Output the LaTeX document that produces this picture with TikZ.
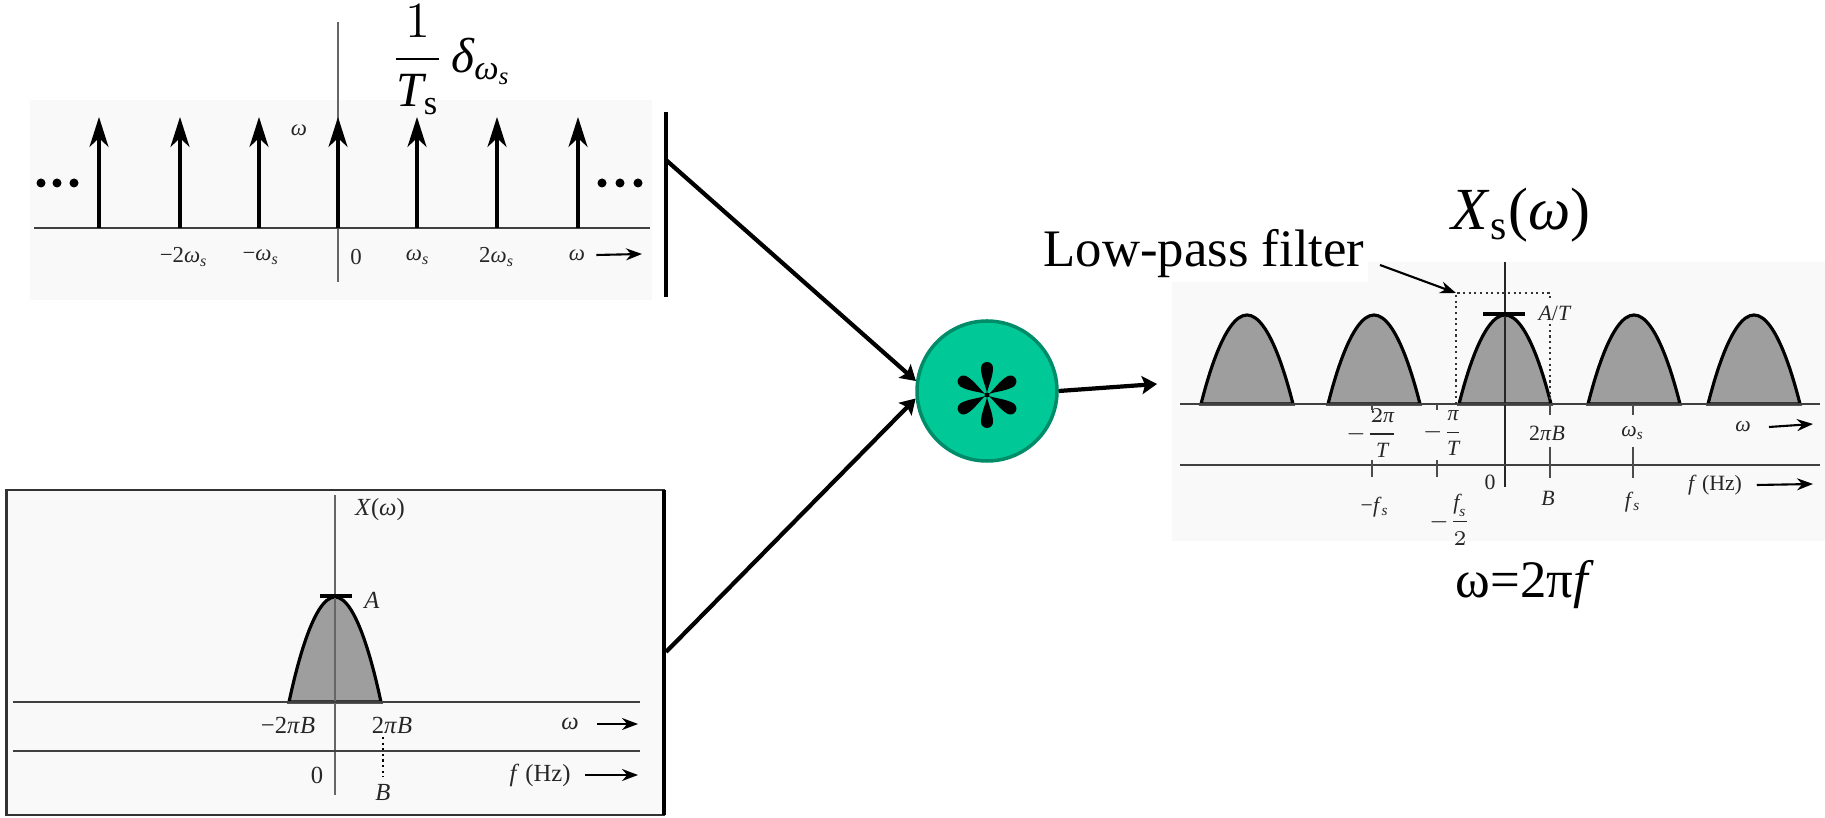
\documentclass[tikz,border=0pt]{standalone}
\usepackage{amsmath}
\usepackage{fontspec}
\setmainfont{Liberation Serif}
\usetikzlibrary{arrows.meta}

\definecolor{convfill}{RGB}{0,200,150}
\definecolor{convedge}{RGB}{0,140,105}
\definecolor{panelbg}{gray}{0.975}

\begin{document}
\begin{tikzpicture}[
    x=1cm, y=1cm,
    every node/.style={inner sep=1pt},
    lbl/.style={font=\fontsize{7}{8}\selectfont, text=black!85},
    tlbl/.style={font=\fontsize{6.5}{7.5}\selectfont, text=black!85},
    rlbl/.style={font=\fontsize{6.2}{7}\selectfont, text=black!85},
    big/.style={font=\fontsize{15}{17}\selectfont},
    axis/.style={draw=black!75, line width=0.8pt},
    vaxis/.style={draw=black!60, line width=0.5pt},
    impulse/.style={-{Stealth[length=3mm,width=1.9mm,inset=0.9mm]}, line width=0.9pt},
    pulse/.style={draw=black, line width=0.9pt, fill=black!38},
    tickmark/.style={draw=black!70, line width=0.5pt},
    arr/.style={-{Stealth[length=1.5mm,width=1.8mm,inset=0.3mm]}, line width=1.2pt},
    smallarr/.style={-{Stealth[length=1.6mm,width=1.2mm]}, line width=0.6pt},
    filterline/.style={densely dotted, line width=0.6pt, draw=black!80}
]

    \useasboundingbox (0,0) rectangle (18.25,8.17);

    % Impulse train
    \fill[panelbg] (0.30,5.17) rectangle (6.52,7.17);
    \draw[vaxis] (3.38,7.95) -- (3.38,5.35);
    \draw[axis] (0.34,5.89) -- (6.50,5.89);
    \foreach \x in {0.99,1.80,2.59,3.38,4.17,4.97,5.78}
        \draw[impulse] (\x,5.89) -- (\x,7.00);
    \foreach \x in {0.41,0.57,0.74,6.02,6.20,6.38}
        \fill (\x,6.34) circle (0.045);
    \draw[line width=1.2pt] (6.66,7.05) -- (6.66,5.20);
    \coordinate (topjoin) at (6.66,6.57);

    \node[tlbl] (tomg) at (2.99,6.87) {\textit{ω}};
    \node[tlbl] (tm2) at (1.84,5.60) {−2\textit{ω}\textsubscript{\textit{s}}};
    \node[tlbl] (tm1) at (2.61,5.60) {−\textit{ω}\textsubscript{\textit{s}}};
    \node[tlbl] (tzero) at (3.56,5.60) {0};
    \node[tlbl] (tp1) at (4.18,5.60) {\textit{ω}\textsubscript{\textit{s}}};
    \node[tlbl] (tp2) at (4.97,5.60) {2\textit{ω}\textsubscript{\textit{s}}};
    \node[tlbl] (taxis) at (5.77,5.62) {\textit{ω}};
    \coordinate (taxisend) at (6.42,5.63);
    \draw[smallarr] ([xshift=2pt]taxis.east) -- (taxisend);

    \node[font=\fontsize{14}{16}\selectfont] (comb) at (4.52,7.57)
        {$\dfrac{1}{\textit{T}_{\mathrm{s}}}\,\textit{δ}_{\textit{ω}_{\textit{s}}}$};

    % Spectrum X(omega)
    \draw[line width=0.7pt, draw=black!80, fill=panelbg] (0.065,0.02) rectangle (6.64,3.27);
    \draw[line width=1.3pt] (6.64,3.27) -- (6.64,0.02);
    \coordinate (botjoin) at (6.66,1.65);

    \draw[pulse] (2.89,1.15) parabola bend (3.35,2.20) (3.81,1.15) -- cycle;
    \draw[vaxis] (3.35,3.22) -- (3.35,0.22);
    \draw[axis] (0.13,1.15) -- (6.40,1.15);
    \draw[axis] (0.13,0.66) -- (6.40,0.66);
    \draw[line width=0.9pt] (3.20,2.21) -- (3.52,2.21);
    \draw[densely dotted, line width=0.6pt] (3.83,0.80) -- (3.83,0.40);

    \node[lbl] (xlab) at (3.80,3.07) {\textit{X}(\textit{ω})};
    \node[lbl] (alab) at (3.72,2.17) {\textit{A}};
    \node[lbl] (bm) at (2.88,0.92) {−2\textit{π}\textit{B}};
    \node[lbl] (bp) at (3.92,0.92) {2\textit{π}\textit{B}};
    \node[lbl] (baxis) at (5.70,0.93) {\textit{ω}};
    \node[lbl] (bzero) at (3.17,0.42) {0};
    \node[lbl] (bb) at (3.83,0.25) {\textit{B}};
    \node[lbl] (bhz) at (5.40,0.42) {\textit{f} (Hz)};
    \coordinate (baxisend) at (6.38,0.93);
    \coordinate (bhzend) at (6.38,0.42);
    \draw[smallarr] ([xshift=4pt]baxis.east) -- (baxisend);
    \draw[smallarr] ([xshift=3pt]bhz.east) -- (bhzend);

    % Convolution
    \node[circle, minimum size=1.40cm, inner sep=0pt, fill=convfill,
          draw=convedge, line width=1pt] (conv) at (9.87,4.26) {};
    \begin{scope}[shift={(conv.center)}, yshift=-0.4mm]
        \foreach \a in {30,90,...,330}
            \fill[rotate=\a-90] (0,0.02) .. controls (0.012,0.09) and (0.06,0.18) .. (0.06,0.27)
                arc[start angle=0, end angle=180, radius=0.06]
                .. controls (-0.06,0.18) and (-0.012,0.09) .. (0,0.02) -- cycle;
        \fill (0,0) circle (0.025);
    \end{scope}

    % Sampled spectrum
    \fill[panelbg] (11.72,2.76) rectangle (18.25,5.55);
    \foreach \c in {12.47,13.74,15.05,16.34,17.54}
        \draw[pulse] (\c-0.46,4.13) parabola bend (\c,5.02) (\c+0.46,4.13) -- cycle;
    \draw[draw=black!85, line width=0.7pt] (15.05,5.55) -- (15.05,3.30);
    \draw[axis] (11.80,4.13) -- (18.20,4.13);
    \draw[axis] (11.80,3.52) -- (18.20,3.52);
    \draw[filterline] (14.56,4.13) -- (14.56,5.24) -- (15.50,5.24) -- (15.50,4.13);
    \coordinate (fcorner) at (14.56,5.24);
    \draw[line width=0.9pt] (14.83,5.03) -- (15.25,5.03);

    \foreach \x in {13.72,14.37} {
        \draw[tickmark] (\x,4.13) -- (\x,4.07);
        \draw[tickmark] (\x,3.57) -- (\x,3.40);
    }
    \foreach \x in {15.50,16.33} {
        \draw[tickmark] (\x,4.13) -- (\x,4.02);
        \draw[tickmark] (\x,3.70) -- (\x,3.39);
    }

    \node[rlbl, fill=panelbg] (at) at (15.55,5.04) {\textit{A}/\textit{T}};
    \node[rlbl] (rm2) at (13.72,3.84) {$-\dfrac{2\textit{π}}{\textit{T}}$};
    \node[rlbl] (rm1) at (14.43,3.84) {$-\dfrac{\textit{π}}{\textit{T}}$};
    \node[rlbl] (rb) at (15.47,3.84) {2\textit{π}\textit{B}};
    \node[rlbl] (rws) at (16.33,3.84) {\textit{ω}\textsubscript{\textit{s}}};
    \node[rlbl] (raxis) at (17.43,3.90) {\textit{ω}};
    \node[rlbl] (rfs) at (13.75,3.10) {−\textit{f}\textsubscript{\textit{s}}};
    \node[rlbl] (rfh) at (14.50,2.97) {$-\dfrac{\textit{f}_{\textit{s}}}{2}$};
    \node[rlbl] (rzero) at (14.90,3.35) {0};
    \node[rlbl] (rbb) at (15.48,3.19) {\textit{B}};
    \node[rlbl] (rfp) at (16.33,3.15) {\textit{f}\textsubscript{\textit{s}}};
    \node[rlbl] (rhz) at (17.15,3.32) {\textit{f} (Hz)};
    \coordinate (raxisend) at (18.13,3.93);
    \coordinate (rhzend) at (18.13,3.33);
    \draw[smallarr] ([xshift=4pt]raxis.east) -- (raxisend);
    \draw[smallarr] ([xshift=3pt]rhz.east) -- (rhzend);

    \node[big, fill=white, anchor=base] (lpf) at (12.04,5.50) {Low-pass filter};
    \coordinate (lpftail) at (13.80,5.52);
    \draw[smallarr] (lpftail) -- (fcorner);

    \node[font=\fontsize{17}{20}\selectfont, anchor=base] (xs) at (15.21,5.87)
        {\textit{X}\textsubscript{s}(\textit{ω})};
    \node[big] (wrel) at (15.25,2.32) {ω=2π\textit{f}};

    % Arrows
    \coordinate (xsin) at (11.57,4.33);
    \draw[arr] (topjoin) -- (conv.172);
    \draw[arr] (botjoin) -- (conv.186);
    \draw[arr] (conv.east) -- (xsin);

\end{tikzpicture}
\end{document}
